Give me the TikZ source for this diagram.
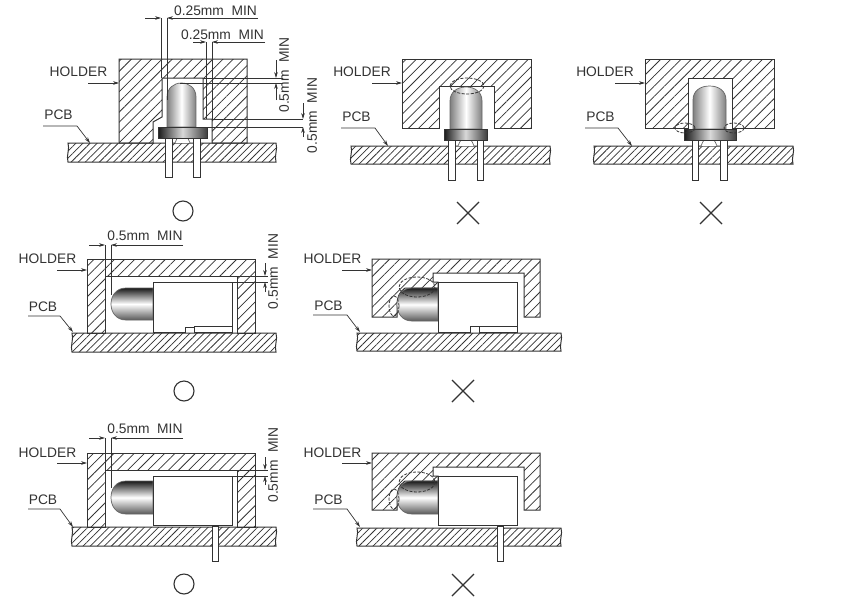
\documentclass[tikz,border=0pt]{standalone}
\usepackage{fontspec}
\setmainfont{Liberation Sans}
\usetikzlibrary{arrows.meta,patterns.meta}
\definecolor{ink}{HTML}{333333}
\tikzset{
  x=1pt,y=-1pt,
  outline/.style={draw=ink,line width=1pt,line join=miter},
  holderhatch/.style={outline,pattern={Lines[angle=45,distance=7.2pt,line width=0.75pt]},pattern color=ink},
  pcbhatch/.style={outline,pattern={Lines[angle=45,distance=5pt,line width=0.75pt]},pattern color=ink},
  thin line/.style={draw=ink,line width=0.7pt},
  dim/.style={draw=ink,line width=0.7pt,-{Stealth[length=6pt,width=3.6pt]}},
  leader/.style={draw=ink,line width=0.7pt,-{Stealth[length=6pt,width=3.6pt]}},
  label/.style={text=ink,font=\fontsize{13.8}{14}\selectfont,inner sep=0pt},
  circle around/.style={draw=ink,line width=0.8pt,dash pattern=on 3pt off 1.5pt},
  mark sym/.style={draw=ink,line width=1.1pt},
  ledline/.style={draw=black!60,line width=0.7pt},
}
\newcommand{\mypcb}[4]{\draw[pcbhatch] (#1,#3) -- (#2,#3) .. controls (#2+2,#3+6) and (#2-2,#4-6) .. (#2,#4) -- (#1,#4) .. controls (#1-2,#4-6) and (#1+2,#3+6) .. (#1,#3) -- cycle;}
% vertical LED: xl xr ytop ybase flangeL flangeR flangeBottom
\newcommand{\myvled}[7]{%
  \path[ledline,left color=black!50,right color=black!50,middle color=white]
    (#1,#4) -- (#1,#3+14) .. controls (#1,#3+5) and (#1+7,#3) .. ({(#1+#2)/2},#3) .. controls (#2-7,#3) and (#2,#3+5) .. (#2,#3+14) -- (#2,#4) -- cycle;
  \path[outline,left color=black!90,right color=black!75,middle color=black!15]
    (#5,#4) rectangle (#6,#7);}
% leads: x1 x2 x3 x4 ytop pcbtop ybot
\newcommand{\myleads}[7]{%
  \draw[outline,fill=white] (#1,#7) -- (#1,#5) -- (#2,#5) -- (#2,#7) -- cycle;
  \draw[outline,fill=white] (#3,#7) -- (#3,#5) -- (#4,#5) -- (#4,#7) -- cycle;
  \draw[ledline,fill=white] (#2+3,#6) .. controls (#2+4,#6-2) and (#2+5,#5) .. (#2+7,#5) -- (#3-7,#5) .. controls (#3-5,#5) and (#3-4,#6-2) .. (#3-3,#6);}
% horizontal LED: xl xr yt yb
\newcommand{\myhled}[4]{\path[ledline,top color=black!90,bottom color=black!65,middle color=white]
    (#2,#3) -- (#1+15,#3) .. controls (#1+5,#3) and (#1,#3+8) .. (#1,{(#3+#4)/2}) .. controls (#1,#4-8) and (#1+5,#4) .. (#1+15,#4) -- (#2,#4) -- cycle;}
\newcommand{\mycross}[2]{\draw[mark sym] (#1-11,#2-11) -- (#1+11,#2+11) (#1-11,#2+11) -- (#1+11,#2-11);}
\begin{document}
\begin{tikzpicture}
\useasboundingbox (0,0) rectangle (858,608);
\fill[white] (0,0) rectangle (858,608);

%%% Diagram 1
\mypcb{68}{276}{143}{162}
\draw[holderhatch] (119,143) -- (119,59) -- (247,59) -- (247,143) -- (212,143) -- (212,119) -- (203,119) -- (203,78) -- (162,78) -- (162,117) -- (153,122) -- (153,143) -- cycle;
\myleads{165}{172}{193}{200}{137}{143}{177}
\myvled{167}{196}{83}{127}{158}{207}{138}
\draw[thin line] (161,18) -- (161,78) (167,18) -- (167,100);
\draw[dim] (145,18) -- (161,18);
\draw[dim] (258,18) -- (167,18);
\node[label] (t1a) at (215.5,11) {0.25mm\hspace{0.55em}MIN};
\draw[thin line] (206,42) -- (206,119) (212,42) -- (212,119);
\draw[dim] (193,42) -- (206,42);
\draw[dim] (265,42) -- (212,42);
\node[label] (t1b) at (222.5,35) {0.25mm\hspace{0.55em}MIN};
\draw[thin line] (203,78) -- (283,78) (180,83) -- (283,83);
\draw[dim] (276,60) -- (276,78);
\draw[dim] (276,100) -- (276,83);
\node[label,rotate=90] (t1c) at (284,75) {0.5mm\hspace{0.55em}MIN};
\draw[thin line] (212,119) -- (303,119) (207,127) -- (303,127);
\draw[dim] (303,103) -- (303,119);
\draw[dim] (303,137) -- (303,127);
\node[label,rotate=90] (t1d) at (312,115.5) {0.5mm\hspace{0.55em}MIN};
\node[label] (h1) at (78.5,72) {HOLDER};
\draw[dim] (88,83) -- (119,83);
\node[label] (p1) at (58.5,115) {PCB};
\draw[leader] (43,126) -- (77,126) -- (90,143);
\draw[mark sym] (183,211) circle (10);

%%% Diagram 2
\mypcb{351}{550}{146}{164}
\draw[holderhatch] (402,128) -- (402,59) -- (531,59) -- (531,128) -- (494,128) -- (494,86) -- (439,86) -- (439,128) -- cycle;
\myleads{448}{455}{477}{483}{140}{146}{180}
\myvled{450}{482}{87}{129}{444}{487}{140}
\draw[circle around] (467,86) ellipse [x radius=17,y radius=8];
\node[label] (h2) at (362,72) {HOLDER};
\draw[dim] (372,83) -- (402,83);
\node[label] (p2) at (356.5,117) {PCB};
\draw[leader] (341,128) -- (375,128) -- (388,146);
\mycross{468}{213}

%%% Diagram 3
\mypcb{594}{793}{146}{164}
\draw[holderhatch] (645,128) -- (645,59) -- (774,59) -- (774,128) -- (732,128) -- (732,78) -- (688,78) -- (688,128) -- cycle;
\myleads{692}{698}{720}{727}{140}{146}{180}
\myvled{693}{726}{86}{129}{684}{736}{140}
\draw[circle around] (685,128) ellipse [x radius=10,y radius=5];
\draw[circle around] (734,128) ellipse [x radius=10,y radius=5];
\node[label] (h3) at (605,72) {HOLDER};
\draw[dim] (615,83) -- (645,83);
\node[label] (p3) at (600.5,117) {PCB};
\draw[leader] (585,128) -- (618,128) -- (632,146);
\mycross{711}{213}

%%% Diagram 4
\mypcb{72}{276}{333}{352}
\draw[holderhatch] (87,333) -- (87,259) -- (255,259) -- (255,333) -- (237,333) -- (237,276) -- (105,276) -- (105,333) -- cycle;
\myhled{111}{153}{288}{320}
\draw[outline,fill=white] (153,282) -- (232,282) -- (232,332) -- (194,332) -- (194,327) -- (185,327) -- (185,332) -- (153,332) -- cycle;
\draw[thin line] (194,326) -- (232,326);
\draw[thin line] (105,245) -- (105,276) (111,245) -- (111,295);
\draw[dim] (89,245) -- (105,245);
\draw[dim] (183,245) -- (111,245);
\node[label] (t4a) at (145,236) {0.5mm\hspace{0.55em}MIN};
\draw[thin line] (237,276) -- (268,276) (232,282) -- (268,282);
\draw[dim] (265,263) -- (265,276);
\draw[dim] (265,292) -- (265,282);
\node[label,rotate=90] (t4b) at (273,271.5) {0.5mm\hspace{0.55em}MIN};
\node[label] (h4) at (47.5,259) {HOLDER};
\draw[dim] (57,270) -- (87,270);
\node[label] (p4) at (43,307) {PCB};
\draw[leader] (28,316) -- (60,316) -- (73,332);
\draw[mark sym] (184,391) circle (10);

%%% Diagram 5
\mypcb{357}{561}{333}{351}
\draw[holderhatch] (372,317) -- (372,259) -- (540,259) -- (540,317) -- (524,317) -- (524,273) -- (433,273) -- (433,282) -- (438,282) -- (438,288) -- (405,288) .. controls (399,292) and (397,298) .. (397,305) -- (397,317) -- cycle;
\myhled{397}{438}{288}{321}
\draw[outline,fill=white] (438,282) -- (517,282) -- (517,332) -- (479,332) -- (479,326) -- (470,326) -- (470,332) -- (438,332) -- cycle;
\draw[thin line] (479,326) -- (517,326);
\draw[circle around] (417,287) ellipse [x radius=18,y radius=10];
\draw[circle around] (394,306) ellipse [x radius=5,y radius=10];
\node[label] (h5) at (332.5,259) {HOLDER};
\draw[dim] (342,270) -- (372,270);
\node[label] (p5) at (328.5,306) {PCB};
\draw[leader] (313,315) -- (347,315) -- (360,332);
\mycross{463}{391}

%%% Diagram 6
\mypcb{72}{276}{527}{546}
\draw[holderhatch] (87,527) -- (87,453) -- (255,453) -- (255,527) -- (237,527) -- (237,470) -- (105,470) -- (105,527) -- cycle;
\myhled{111}{153}{481}{514}
\draw[outline,fill=white] (153,476) rectangle (232,525);
\draw[outline,fill=white] (212,526) rectangle (218,561);
\draw[thin line] (105,438) -- (105,470) (111,438) -- (111,488);
\draw[dim] (89,438) -- (105,438);
\draw[dim] (183,438) -- (111,438);
\node[label] (t6a) at (145,429) {0.5mm\hspace{0.55em}MIN};
\draw[thin line] (237,470) -- (268,470) (232,476) -- (268,476);
\draw[dim] (265,457) -- (265,470);
\draw[dim] (265,485) -- (265,476);
\node[label,rotate=90] (t6b) at (273,465) {0.5mm\hspace{0.55em}MIN};
\node[label] (h6) at (47.5,453) {HOLDER};
\draw[dim] (57,463) -- (87,463);
\node[label] (p6) at (43,500) {PCB};
\draw[leader] (28,509) -- (60,509) -- (73,527);
\draw[mark sym] (184,584) circle (10);

%%% Diagram 7
\mypcb{357}{561}{528}{546}
\draw[holderhatch] (372,510) -- (372,453) -- (540,453) -- (540,510) -- (524,510) -- (524,467) -- (433,467) -- (433,476) -- (438,476) -- (438,481) -- (405,481) .. controls (399,485) and (397,491) .. (397,498) -- (397,510) -- cycle;
\myhled{397}{438}{481}{514}
\draw[outline,fill=white] (438,476) rectangle (517,525);
\draw[outline,fill=white] (497,526) rectangle (503,561);
\draw[circle around] (417,482) ellipse [x radius=18,y radius=10];
\draw[circle around] (394,499) ellipse [x radius=5,y radius=10];
\node[label] (h7) at (332.5,453) {HOLDER};
\draw[dim] (342,463) -- (372,463);
\node[label] (p7) at (328.5,500) {PCB};
\draw[leader] (313,509) -- (347,509) -- (360,527);
\mycross{463}{585}
\end{tikzpicture}
\end{document}
